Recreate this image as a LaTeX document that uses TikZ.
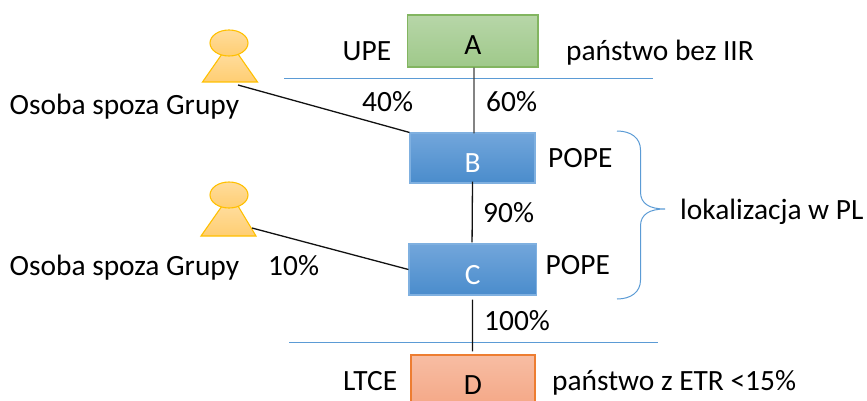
\documentclass[tikz,border=0pt]{standalone}
\usepackage{fontspec}
\setmainfont{Carlito}
\usetikzlibrary{calc,shapes.geometric}
\definecolor{bline}{HTML}{5B9BD5}
\definecolor{lineK}{HTML}{111111}
\newcommand{\lowtext}[2]{\raisebox{-#1}[\height][0pt]{#2}}
\tikzset{
 lbl/.style={inner sep=0pt,anchor=base west,font=\fontsize{29.4}{34}\selectfont,text=black},
 boxbase/.style={rectangle,inner sep=0pt,line width=1.1pt,font=\fontsize{29.4}{34}\selectfont},
 greenbox/.style={boxbase,draw=#1,top color=green1,bottom color=green2},
 bluebox/.style={boxbase,draw=blueB,top color=blue1,bottom color=blue2,text=white},
 orangebox/.style={boxbase,draw=orangeB,top color=orange1,bottom color=orange2},
 personpart/.style={draw=persB,line width=1.1pt,top color=pers1,bottom color=pers2},
 conn/.style={draw=lineK,line width=1.3pt},
 hrule/.style={draw=bline,line width=1pt},
}
\definecolor{green1}{HTML}{B7D6A8}
\definecolor{green2}{HTML}{9FC98A}
\definecolor{greenB}{HTML}{82B560}
\definecolor{blue1}{HTML}{72A6DB}
\definecolor{blue2}{HTML}{4A8CCC}
\definecolor{blueB}{HTML}{7FB0E0}
\definecolor{orange1}{HTML}{F7BDA3}
\definecolor{orange2}{HTML}{F4A482}
\definecolor{orangeB}{HTML}{ED7D31}
\definecolor{pers1}{HTML}{FFDC9C}
\definecolor{pers2}{HTML}{FFCE72}
\definecolor{persB}{HTML}{FFC000}
\begin{document}
\begin{tikzpicture}[x=1pt,y=-1pt]
\useasboundingbox (0,0) rectangle (867,401);
\clip (0,0) rectangle (867,401);
% rules
\coordinate (r1a) at (284,78.5); \coordinate (r1b) at (653,78.5);
\coordinate (r2a) at (289,342); \coordinate (r2b) at (658,342);
\draw[hrule] (r1a) -- (r1b);
\draw[hrule] (r2a) -- (r2b);
% boxes
\node[greenbox=greenB,minimum width=130.5pt,minimum height=52pt] (A) at (472.75,41) {\lowtext{4pt}{A}};
\node[bluebox,minimum width=125pt,minimum height=50pt] (B) at (472.5,158) {\lowtext{5pt}{B}};
\node[bluebox,minimum width=127.5pt,minimum height=51pt] (C) at (472.75,269.5) {\lowtext{5pt}{C}};
\node[orangebox,minimum width=124pt,minimum height=60pt] (D) at (473,385) {D};
% people
\draw[personpart] (222,54) -- (202.5,82) -- (257.5,82) -- (238,54) -- cycle;
\node[personpart,ellipse,minimum width=38pt,minimum height=26pt,inner sep=0pt] (P1) at (229,43) {};
\draw[personpart] (222,206) -- (201,236) -- (256,236) -- (238,206) -- cycle;
\node[personpart,ellipse,minimum width=38pt,minimum height=26pt,inner sep=0pt] (P2) at (229,195) {};
% connectors
\coordinate (p1c) at (238,85); \coordinate (p2c) at (252,228);
\draw[conn] (p1c) -- (B.north west);
\draw[conn] (p2c) -- (C.west);
\draw[conn,draw=black!75] ($(A.south)+(1.2,0)$) -- ($(B.north)+(1.5,1)$);
\draw[conn] ($(B.south)+(0,-2)$) -- ($(C.north)+(-0.7,-1)$);
\draw[conn] ($(C.south)+(-0.2,4)$) -- ($(D.north)+(-0.5,-3)$);
% brace
\coordinate (bt) at (617,131); \coordinate (bm) at (665,209); \coordinate (bb) at (617,299);
\draw[draw=bline,line width=1pt] (bt) .. controls (631,131) and (640.5,138) .. (640.5,150)
 -- (640.5,192) .. controls (640.5,204) and (650,209) .. (bm)
 .. controls (650,209) and (640.5,214) .. (640.5,226)
 -- (640.5,280) .. controls (640.5,292) and (631,299) .. (bb);
% labels
\node[lbl] (l1) at (342.5,60.5) {UPE};
\node[lbl] (l2) at (566,60.5) {państwo bez IIR};
\node[lbl] (l3) at (9.5,115) {Osoba spoza Grupy};
\node[lbl] (l4) at (362,111.5) {40\%};
\node[lbl] (l5) at (486,111.5) {60\%};
\node[lbl] (l6) at (548,167) {POPE};
\node[lbl] (l7) at (483,222) {90\%};
\node[lbl] (l8) at (680,219) {lokalizacja w PL};
\node[lbl] (l9) at (9.5,275) {Osoba spoza Grupy};
\node[lbl] (l10) at (268,275) {10\%};
\node[lbl] (l11) at (545.5,274.5) {POPE};
\node[lbl] (l12) at (484,330) {100\%};
\node[lbl] (l13) at (343,390) {LTCE};
\node[lbl] (l14) at (552,390) {państwo z ETR <15\%};
\end{tikzpicture}
\end{document}
